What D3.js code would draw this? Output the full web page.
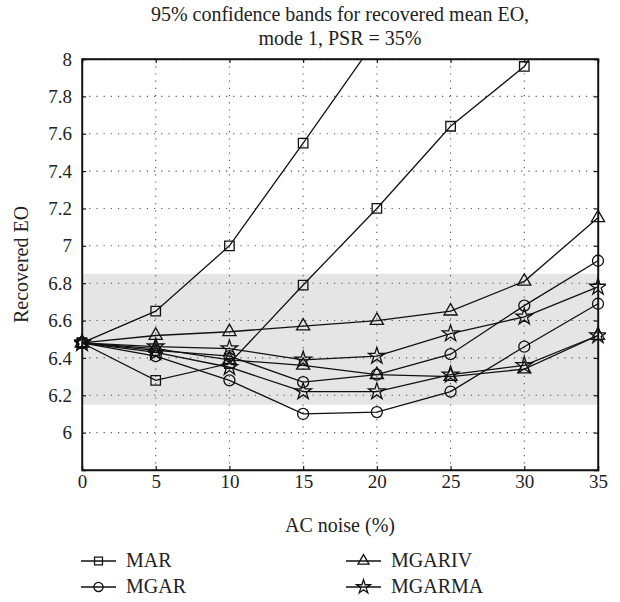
<!DOCTYPE html>
<meta charset="utf-8">
<style>
    body { margin: 0; background: #fff; }
    .grid line { stroke: #555; stroke-dasharray: 1.2,6; stroke-width: 1.1; }
    .series path { fill: none; stroke: #111; stroke-width: 1.3; }
    .mark { fill: none; stroke: #111; stroke-width: 1.3; }
</style>
<svg width="620" height="602"></svg>
<script src="https://cdn.jsdelivr.net/npm/d3@7"></script>
<script>

    // AC noise (%)
    var noise = [0, 5, 10, 15, 20, 25, 30, 35];
    var xTicks = [0, 5, 10, 15, 20, 25, 30, 35];
    var yTicks = [6, 6.2, 6.4, 6.6, 6.8, 7, 7.2, 7.4, 7.6, 7.8, 8];
    var yTickLabels = ["6", "6.2", "6.4", "6.6", "6.8", "7", "7.2", "7.4", "7.6", "7.8", "8"];

    // upper / lower 95% bounds per method
    var marUpper    = [6.48, 6.65, 7.00, 7.55, 8.11, 8.70, 9.30, 9.90];
    var marLower    = [6.48, 6.28, 6.37, 6.79, 7.20, 7.64, 7.96, 8.55];
    var mgarUpper   = [6.48, 6.44, 6.41, 6.27, 6.31, 6.42, 6.68, 6.92];
    var mgarLower   = [6.48, 6.41, 6.28, 6.10, 6.11, 6.22, 6.46, 6.69];
    var mgarivUpper = [6.48, 6.52, 6.54, 6.57, 6.60, 6.65, 6.81, 7.15];
    var mgarivLower = [6.48, 6.45, 6.39, 6.36, 6.31, 6.30, 6.34, 6.52];
    var mgarmaUpper = [6.48, 6.46, 6.45, 6.39, 6.41, 6.53, 6.62, 6.78];
    var mgarmaLower = [6.48, 6.43, 6.35, 6.22, 6.22, 6.31, 6.36, 6.52];

    var band = [6.15, 6.85];

    var legendNames = ["MAR", "MGAR", "MGARIV", "MGARMA"];
    var legendSymbols = ["square", "circle", "triangle", "star"];

    var series = [
        {sym: "square", v: marUpper},
        {sym: "square", v: marLower},
        {sym: "circle", v: mgarUpper},
        {sym: "circle", v: mgarLower},
        {sym: "triangle", v: mgarivUpper},
        {sym: "triangle", v: mgarivLower},
        {sym: "star", v: mgarmaUpper},
        {sym: "star", v: mgarmaLower}
    ];

    var FONT = "'Liberation Serif'";

    var svg = d3.select("svg");
    var m = {left: 82, right: 22, top: 59, bottom: 132};
    var W = 620 - m.left - m.right,
        H = 602 - m.top - m.bottom;

    var x = d3.scaleLinear().domain([0, 35]).range([0, W]);
    var y = d3.scaleLinear().domain([5.8, 8]).range([H, 0]);

    var g = svg.append("g").attr("transform", "translate(" + m.left + "," + m.top + ")");

    g.append("clipPath").attr("id", "clip")
        .append("rect").attr("x", -8).attr("y", 0).attr("width", W + 16).attr("height", H);

    // shaded band
    g.append("rect")
        .attr("x", 0).attr("width", W)
        .attr("y", y(band[1])).attr("height", y(band[0]) - y(band[1]))
        .attr("fill", "#e5e5e5");

    // dotted grid
    var grid = g.append("g").attr("class", "grid");
    grid.selectAll(".gx").data(xTicks.slice(1, -1)).enter().append("line")
        .attr("x1", function (d) { return x(d); }).attr("x2", function (d) { return x(d); })
        .attr("y1", 0).attr("y2", H);
    grid.selectAll(".gy").data(yTicks).enter().append("line")
        .attr("y1", function (d) { return y(d); }).attr("y2", function (d) { return y(d); })
        .attr("x1", 0).attr("x2", W);

    // axes
    var xAxis = g.append("g").attr("transform", "translate(0," + H + ")")
        .call(d3.axisBottom(x).tickValues(xTicks).tickSize(-4).tickPadding(5));
    var yAxis = g.append("g")
        .call(d3.axisLeft(y).tickValues(yTicks).tickSize(-4).tickPadding(10)
            .tickFormat(function (d, i) { return yTickLabels[i]; }));
    var yAxisR = g.append("g").attr("transform", "translate(" + W + ",0)")
        .call(d3.axisRight(y).tickValues(yTicks).tickSize(-4).tickFormat(""));
    var xAxisT = g.append("g")
        .call(d3.axisTop(x).tickValues(xTicks).tickSize(-4).tickFormat(""));

    [xAxis, yAxis, yAxisR, xAxisT].forEach(function (a) {
        a.attr("font-family", null).attr("font-size", null);
        a.select(".domain").attr("stroke", "#111").attr("stroke-width", 1.4);
        a.selectAll(".tick line").attr("stroke", "#111").attr("stroke-width", 1.2);
        a.selectAll("text").style("font-family", FONT).style("font-size", "19px").attr("fill", "#222");
    });

    // frame
    g.append("rect").attr("width", W).attr("height", H)
        .attr("fill", "none").attr("stroke", "#111").attr("stroke-width", 1.4);

    function symbolPath(sym, k) {
        k = k || 1;
        if (sym === "square") return d3.symbol(d3.symbolSquare, 90 * k)();
        if (sym === "circle") return d3.symbol(d3.symbolCircle, 95 * k)();
        if (sym === "triangle") return d3.symbol(d3.symbolTriangle, 75 * k)();
        return d3.symbol(d3.symbolStar, 85 * k)();
    }

    var line = d3.line()
        .x(function (d, i) { return x(noise[i]); })
        .y(function (d) { return y(d); });

    var plot = g.append("g").attr("class", "series").attr("clip-path", "url(#clip)");

    series.forEach(function (s) {
        plot.append("path").attr("d", line(s.v));
        plot.selectAll(null).data(s.v).enter().append("path")
            .attr("class", "mark")
            .attr("d", symbolPath(s.sym))
            .attr("transform", function (d, i) {
                return "translate(" + x(noise[i]) + "," + y(d) + ")";
            });
    });

    function label(px, py, txt, size) {
        return svg.append("text").attr("x", px).attr("y", py)
            .attr("text-anchor", "middle")
            .style("font-family", FONT).style("font-size", size + "px")
            .attr("fill", "#222").text(txt);
    }

    // titles
    label(m.left + W / 2, 21, "95% confidence bands for recovered mean EO,", 20);
    label(m.left + W / 2, 45, "mode 1, PSR = 35%", 20);
    label(m.left + W / 2, 532, "AC noise (%)", 20);
    label(0, 0, "Recovered EO", 20)
        .attr("transform", "translate(28," + (m.top + H / 2) + ") rotate(-90)");

    // legend
    var leg = svg.append("g");
    legendNames.forEach(function (name, i) {
        var lx = i < 2 ? 81 : 346,
            ly = i % 2 === 0 ? 561 : 587;
        leg.append("line").attr("x1", lx).attr("x2", lx + 35)
            .attr("y1", ly).attr("y2", ly).attr("stroke", "#111").attr("stroke-width", 1.3);
        leg.append("path").attr("class", "mark")
            .attr("d", symbolPath(legendSymbols[i], 0.7))
            .attr("transform", "translate(" + (lx + 17.5) + "," + ly + ")");
        leg.append("text").attr("x", lx + 45).attr("y", ly + 6)
            .style("font-family", FONT).style("font-size", "20px")
            .attr("fill", "#222").text(name);
    });

</script>
